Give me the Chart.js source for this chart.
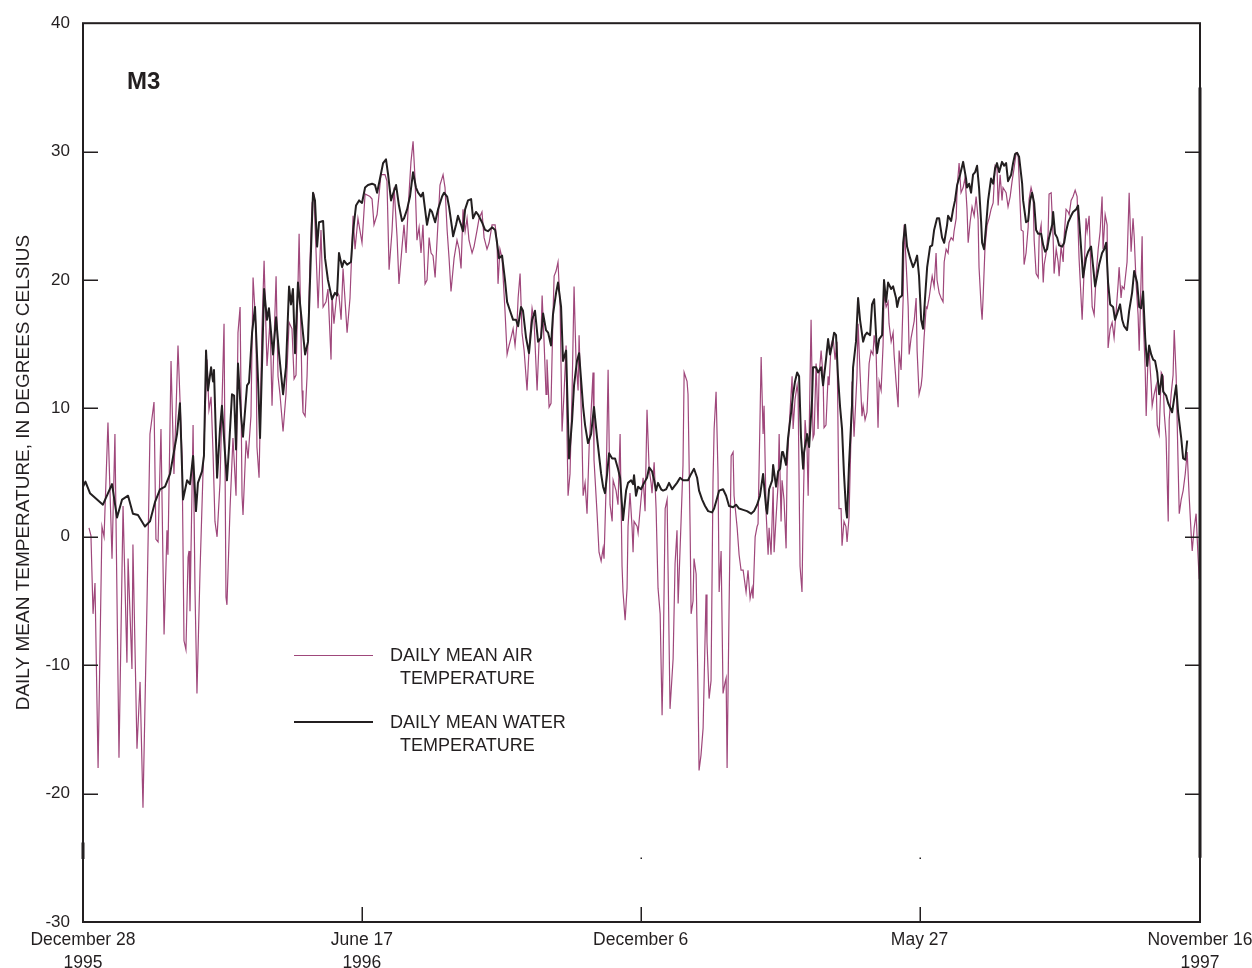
<!DOCTYPE html>
<html>
<head>
<meta charset="utf-8">
<title>M3 daily mean air and water temperature</title>
<script src="https://cdn.jsdelivr.net/npm/chart.js@4.4.1/dist/chart.umd.min.js"></script>
<style>
  html, body { margin: 0; padding: 0; background: #fff; }
  #wrap { width: 1252px; height: 968px; }
</style>
</head>
<body>
<div id="wrap"><canvas id="chart" width="1252" height="968"></canvas></div>
<script>
// x = days after December 28 1995, y = degrees Celsius
const tickDays = [0, 172, 344, 516, 689];
const tickLabels = [['December 28', '1995'], ['June 17', '1996'], ['December 6', ''], ['May 27', ''], ['November 16', '1997']];
const tempTicks = [-30, -20, -10, 0, 10, 20, 30, 40];

const airTemp = [
  [3.7,0.7],[4.9,0.1],[6.2,-6],[7.4,-3.6],[9.3,-18],[11.7,0.8],[13,0],[15.4,8.9],[17.9,-1.7],[19.7,8],
  [22.2,-17.2],[24.7,2.4],[27.1,-9.8],[27.8,-1.7],[30.2,-10.3],[30.8,-0.6],[33.3,-16.5],[35.2,-11.3],[37,-21.1],[39.5,-5],
  [41.3,8],[43.8,10.5],[45,-0.2],[46.3,-0.4],[48.1,8.4],[50,-7.6],[51.8,0.5],[52.4,-1.4],[54.3,13.7],[56.1,4.9],
  [57.4,9.9],[58.6,14.9],[61.1,6.3],[62.3,-8.1],[63.5,-8.8],[64.8,-1.6],[65.4,-1.1],[66,-5.8],[67.9,8.7],[69.1,-4.3],
  [70.3,-12.2],[72.2,-2.6],[74,4.9],[76.5,13.8],[77.7,9.9],[79,10.9],[80.2,6.6],[81.4,1.2],[82.7,0],[84.5,4.2],
  [87,16.6],[88.2,-4.7],[88.8,-5.3],[90.7,2.2],[92.5,7.7],[94.4,3.2],[95.6,15.9],[96.9,17.9],[98.1,3.2],[98.7,1.7],
  [100.6,7.5],[101.8,6.1],[103.6,9.4],[104.9,20.2],[106.7,16.2],[107.3,7],[108.6,4.6],[110.4,16.2],[111.7,21.5],[113.5,13.3],
  [115.4,16.9],[116.6,10.2],[119.1,20.3],[120.3,12.5],[121.5,11.1],[123.4,8.2],[125.2,11.1],[127.1,16.7],[128.9,16.2],[130.2,12.3],
  [131.4,12.6],[133.3,23.6],[135.1,11.4],[135.7,9.7],[137,9.4],[138.2,12.5],[140,21.4],[141.3,26],[142.5,26.5],[143.7,22.4],
  [145,17.8],[146.8,23.9],[148.1,17.9],[149.9,18.3],[151.1,19.3],[153,13.8],[153.6,18.8],[154.8,16.6],[156.7,19.1],[157.9,18.8],
  [159.2,16.9],[160.4,20.9],[162.9,15.9],[164.7,18.6],[166.6,25],[167.8,22.4],[169.6,24.8],[172.1,22.9],[174,26.7],[177,26.5],
  [178.3,26.3],[179.5,24.3],[181.4,25.1],[183.8,28.2],[186.3,28.2],[187.5,27.7],[188.8,20.8],[190.6,23.8],[191.9,27.2],[193.7,23.4],
  [194.9,19.7],[196.8,22.6],[198,24.3],[199.3,22.1],[200.5,25.5],[202.3,29.2],[203.6,30.8],[204.8,27.9],[206,23.1],[207.3,24.1],
  [208.5,22.1],[209.7,24.3],[211,19.7],[212.2,20],[213.5,23.3],[214.7,22.1],[215.9,21.9],[217.2,20.2],[218.4,23.1],[220.2,27.4],
  [222.1,28.2],[223.3,27.2],[224.6,23.9],[225.8,21.7],[227,19.1],[228.9,21.7],[230.7,23.1],[232,22.4],[233.2,20.9],[234.4,25.5],
  [235.7,23.8],[236.9,24.8],[238.1,23.1],[240,22.1],[241.2,22.6],[243.1,23.9],[244.3,24.8],[246.1,25.3],[247.4,23.3],[249.2,22.4],
  [250.5,22.9],[252.3,24.3],[254.2,24.3],[255.4,22.9],[256,19.7],[257.2,22.4],[258.5,21.7],[260.3,17.6],[261.6,14.2],[262.8,14.9],
  [264,15.5],[265.3,16.2],[266.5,14.9],[267.7,16.6],[268.4,18.6],[269.6,20.5],[270.8,15.9],[272.1,14.5],[273.9,11.4],[275.1,14.5],
  [277,17.8],[278.2,16.9],[280.1,11.4],[281.3,15.2],[282.5,15.5],[283.2,18.8],[284.4,15.2],[285.6,11.1],[286.2,13.8],[287.5,10.1],
  [288.7,10.4],[289.9,17.3],[290.6,20.3],[291.8,20.7],[293,21.4],[294.3,17.9],[295.5,8.2],[296.7,11.1],[298,14.9],[298.6,7.7],
  [299.2,3.2],[300.4,4.9],[301.7,11.4],[302.9,19.5],[304.1,13.8],[305.4,11.4],[306,15.7],[307.8,7.7],[308.5,3.2],[309.7,4.2],
  [310.9,1.8],[312.2,7],[313.4,9.7],[314.6,12.8],[315.2,6],[317.1,1.8],[318.3,-1.2],[319.6,-1.9],[320.8,-0.9],[321.4,-1.7],
  [322.6,3.6],[323.9,13],[325.1,2.5],[326.4,1.2],[327,4.4],[328.8,3.6],[330,2.5],[331.3,8],[332.5,-2.3],[333.1,-4.3],
  [334.4,-6.5],[335.6,-4],[336.2,0.8],[337.4,3.4],[338.7,0.7],[339.3,-1.2],[339.9,1.2],[341.8,0.8],[342.4,0.3],[344.2,2.9],
  [345.5,4.6],[346.7,2],[347.9,9.9],[349.2,5.3],[350.4,4.2],[351,3.4],[352.3,5.8],[353.5,2.2],[354.7,-4],[356,-6],
  [357.2,-13.9],[357.8,-10.1],[359.1,2.2],[360.3,2.9],[360.9,-2.6],[362.1,-13.4],[364,-9.5],[365.2,-2.1],[366.4,0.5],[367.1,-5.2],
  [368.9,1.2],[370.1,5.6],[370.8,12.8],[372.6,12.1],[373.2,11.1],[374.5,0.5],[375.1,-6],[376.3,-5],[376.9,-1.7],[378.2,-2.9],
  [379.4,-12.2],[380,-18.2],[381.2,-17],[382.5,-14.9],[384.3,-4.5],[384.9,-8.2],[386.2,-12.6],[387.4,-11.2],[388.6,4.2],[389.3,8.4],
  [390.5,11.3],[391.7,4.9],[392.4,-4.3],[393.6,-1.1],[394.8,-12.2],[396.1,-11.3],[396.7,-11],[397.3,-18],[398.5,-5.7],[399.8,6.3],
  [401,6.6],[401.6,3.2],[403.5,0.7],[404.7,-1.4],[405.9,-2.6],[407.2,-2.6],[409,-4.3],[410.2,-2.6],[411.5,-4.8],[412.7,-4],
  [413.3,-4.8],[414.6,0],[415.8,0.8],[416.4,1],[418.3,14],[419.5,8],[420.1,10.2],[421.4,1.8],[422.6,-1.4],[423.2,0.7],
  [424.4,-1.4],[425.7,3.9],[426.3,-1.2],[427.5,1.5],[428.8,4.2],[429.4,8],[430.6,1.2],[431.2,4.4],[432.4,2.9],[433.7,-0.9],
  [434.3,5.3],[435.5,8.4],[437.4,12.5],[438,8.4],[439.2,10.7],[440.5,11.8],[441.1,11.1],[442.3,-2.3],[443.5,-4.3],[444.2,1.8],
  [445.4,9.1],[446.6,7],[447.3,3.2],[448.5,12.5],[449.1,16.9],[450.3,7.7],[451,8],[452.2,13.5],[453.4,8.4],[454,12.5],
  [455.3,14.5],[456.5,12.5],[457.1,8.5],[458.3,8.7],[459.6,12.5],[460.2,11.8],[461.4,14.9],[462.7,15.5],[463.9,13.8],[465.1,15.2],
  [466.3,2.2],[467.6,2.2],[468.2,-0.7],[469.4,1.2],[470.6,0.8],[471.3,-0.4],[472.5,1.5],[473.7,7.7],[474.4,12.1],[475.6,7.8],
  [477.4,12.5],[478.1,16.6],[479.3,12.8],[480.5,9.4],[481.2,10.2],[482.4,9.1],[483.6,9.7],[484.9,13.5],[486.1,14.5],[487.3,14.2],
  [488,15.7],[489.2,14.5],[490.4,8.5],[491.1,12.1],[492.3,11.4],[493.5,14.9],[494.1,19],[495.4,17.9],[496.6,18.3],[497.2,16.6],
  [498.5,15.2],[499.7,15.9],[500.3,14.2],[501.5,12.1],[502.8,10.1],[503.4,14.5],[504.6,13],[505.9,18.6],[506.5,24.3],[507.7,21.4],
  [509,17.9],[509.6,14.2],[510.8,15.5],[511.4,15.9],[512.7,16.8],[513.9,18.6],[514.5,14.5],[515.7,11.1],[517,11.8],[517.6,12.5],
  [518.8,15.5],[520.1,17.9],[520.7,17.8],[521.9,18.6],[523.1,19.7],[523.8,20.3],[525,19.5],[526.2,22.1],[526.8,20],[528.1,19],
  [529.3,18.6],[530.5,18.3],[531.2,21.4],[532.4,22.4],[533.6,22.1],[534.2,22.9],[535.5,23.3],[536.7,23.1],[537.3,23.8],[538.6,24.8],
  [539.2,27.2],[540.4,29.1],[541.6,26.8],[542.9,27.2],[544.1,28],[545.3,25.5],[546,22.9],[547.2,24.5],[548.4,25.7],[549.7,25],
  [550.9,26.5],[552.1,24.8],[552.7,21],[554,17.9],[554.6,16.9],[555.2,18.6],[556.4,22.6],[557.7,24.3],[558.9,24.8],[560.1,25.5],
  [561.4,26],[562.6,28.9],[563.8,28.7],[564.5,25.8],[565.7,28.2],[566.9,26.2],[567.5,27.2],[569.4,26.8],[570.6,25.7],[571.9,26.5],
  [573.1,27.7],[574.3,28.7],[575.6,29.9],[576.8,29.8],[577.4,27.9],[578.7,23.9],[579.9,23.8],[580.5,21.2],[581.7,22.1],[583,24.1],
  [583.6,26.3],[584.8,27.2],[586.1,26.5],[586.7,23.1],[587.9,20.5],[589.2,20.2],[589.8,23.4],[591,24.3],[592.3,19.8],[592.9,21.2],
  [594.1,22.1],[595.3,23.6],[595.9,26.7],[597.2,26.8],[598.4,23.3],[599,20.5],[600.3,22.4],[601.5,21.4],[602.1,20.3],[603.3,22.6],
  [604.6,21.4],[605.2,23.4],[606.4,25.5],[607.7,25.3],[608.3,25.1],[609.5,26.2],[610.7,26.5],[612,27],[613.2,26.5],[614.4,21.7],
  [616.3,16.9],[617.5,20.7],[618.7,24.8],[619.4,23.8],[620.6,25],[621.8,20.3],[622.5,17.9],[623.7,17.3],[624.9,20.3],[626.2,22.4],
  [627.4,23.8],[628.6,26.5],[629.2,22.4],[630.5,25.1],[631.7,24.3],[632.3,14.7],[633.6,16.2],[634.8,16.7],[636,15.5],[637.3,17.6],
  [638.5,19.7],[639.1,21],[640.3,18.6],[641,19.5],[642.2,19.3],[644,21.4],[645.3,26.8],[646.5,22.2],[647.7,24.8],[648.4,23.4],
  [649.6,19.7],[650.8,17.3],[651.5,14.5],[652.7,20.3],[653.3,23.4],[653.9,17.3],[655.2,13],[655.8,9.4],[657,14.2],[657.6,14.5],
  [658.9,11.8],[659.5,10.2],[660.7,11.1],[662,11.8],[662.6,8.7],[663.8,8],[665.1,12.8],[666.3,12.5],[666.9,9.7],[668.1,7.7],
  [669.4,1.2],[670,9.1],[671.2,11.1],[672.4,12.6],[673.1,16.1],[674.3,12.5],[675.5,5.6],[676.2,1.8],[677.4,2.9],[678.6,3.6],
  [679.9,4.9],[681.1,6.6],[682.3,3.2],[683.6,0.1],[684.2,-1.1],[685.4,0.7],[686.6,1.8],[687.3,-0.2],[688.5,-3.3]
];

const waterTemp = [
  [0,3.9],[1.5,4.3],[4.3,3.4],[12.3,2.5],[17.9,4.1],[21,1.5],[24.1,2.9],[27.8,3.2],[30.8,1.8],[33.9,1.7],
  [38.2,0.8],[41.3,1.2],[44.4,2.7],[47.5,3.7],[50.6,3.9],[53.7,4.9],[58,8],[59.8,10.4],[61.7,2.9],[64.2,4.4],
  [66,4.1],[67.9,6.3],[69.7,2],[70.9,4.2],[73.4,5.1],[74.6,6.3],[75.9,14.5],[77.1,11.4],[79,13.2],[80.2,12.1],
  [80.8,13],[82.7,4.6],[84.5,8.4],[85.7,10.2],[87.6,6.5],[88.8,4.4],[90.1,7],[91.9,11.1],[93.2,11],[94.4,6.8],
  [95.6,13.5],[97.5,9.4],[98.7,7.8],[101.2,11.8],[102.4,12],[104.3,15.9],[106.1,17.9],[108,12.1],[109.2,7.7],[111.7,19.3],
  [113.5,16.9],[114.7,17.8],[117.2,14.2],[119.1,17.1],[120.9,14.3],[123.4,11.1],[125.2,13.2],[127.1,19.5],[128.3,18.1],[129.5,19.3],
  [130.8,14.3],[132.6,19.8],[135.1,16.6],[137,14.2],[138.8,15.2],[141.3,24.8],[141.9,26.8],[143.1,26.2],[144.4,22.6],[145.6,24.5],
  [148.1,24.6],[149.3,21.7],[151.1,20],[153.6,18.5],[155.4,19],[156.7,18.8],[157.9,22.1],[159.8,21],[161,21.5],[162.9,21.2],
  [165.3,21.4],[166.6,23.8],[168.4,25.8],[170.3,26.2],[172.1,26],[174,27.2],[175.8,27.4],[178.3,27.5],[180.1,27.4],[181.4,26.8],
  [183.2,27.9],[185.1,29.1],[186.9,29.4],[188.2,28.2],[190,26.2],[191.2,26.7],[193.1,27.4],[194.9,25.8],[196.8,24.6],[198,24.8],
  [199.9,25.5],[201.7,26.5],[203.6,28.4],[205.4,27.2],[206.7,26.8],[208.5,26.5],[209.7,26.8],[211,25.5],[212.2,24.3],[214.1,25.5],
  [215.3,25.3],[217.2,24.5],[219,25.5],[221.5,26.5],[222.7,26.8],[224.6,26.5],[225.8,25.7],[227.6,24.1],[228.3,23.4],[230.1,24.3],
  [231.3,25],[233.2,24.3],[234.4,23.8],[235.7,25.5],[237.5,26.2],[239.4,26.3],[240.6,24.8],[242.4,25.3],[243.7,25.1],[246.1,24.5],
  [248,23.9],[249.8,23.8],[252.3,24.1],[254.2,23.9],[255.4,22.9],[256.6,21.7],[258.5,21.9],[260.3,20],[261.6,18.3],[263.4,17.6],
  [265.3,16.9],[267.1,16.9],[268.4,16.4],[270.2,17.9],[271.4,17.6],[273.3,15.5],[275.1,14.3],[277,16.9],[278.8,17.6],[280.7,15.2],
  [282.5,15.5],[283.8,17.4],[285.6,16.1],[286.9,15.9],[288.7,14.9],[289.9,17.3],[291.8,19],[293,19.8],[294.9,17.9],[296.1,13.7],
  [298,14.5],[299.8,6.1],[301.7,9.1],[302.9,11.8],[304.7,13.7],[306,14.3],[308.5,10.1],[309.7,8.7],[311.5,7.3],[313.4,8],
  [315.2,10.1],[317.1,7.7],[319.6,4.9],[320.8,3.9],[322,3.4],[323.3,4.9],[324.5,6.5],[326.4,6.1],[328.2,6.1],[330,5.3],
  [331.3,4.6],[333.1,1.3],[335,3.6],[336.2,4.2],[338.1,4.4],[339.3,4.1],[339.9,4.8],[341.1,3.2],[342.4,3.9],[344.2,3.7],
  [346.1,4.2],[347.9,4.6],[349.2,5.4],[351,5.1],[352.3,4.4],[353.5,3.6],[354.7,4.2],[356.6,3.7],[357.8,3.6],[359.7,3.7],
  [361.5,4.2],[363.4,3.7],[364.6,3.9],[366.4,4.2],[368.3,4.6],[370.1,4.4],[372,4.4],[373.2,4.4],[375.1,4.9],[376.9,5.3],
  [378.8,4.6],[380,3.6],[381.9,2.9],[383.7,2.4],[385.6,2],[388,1.9],[389.3,2.2],[391.1,3],[392.4,3.6],[394.8,3.7],
  [396.7,3.2],[398.5,2.4],[401,2.3],[402.8,2.5],[404.7,2.2],[407.2,2.1],[409.6,2],[412.1,1.8],[413.9,2],[415.8,2.5],
  [417.6,3.2],[419.5,4.9],[421.4,2.2],[422,1.8],[423.2,3.7],[425.1,4.4],[425.7,5.6],[427.5,3.9],[428.8,5.1],[430,5.3],
  [431.2,6.6],[431.8,6.6],[433.7,5.6],[434.9,7.7],[436.8,9.7],[438,11.1],[439.2,12.1],[440.5,12.8],[441.7,12.5],[442.9,7.7],
  [444.2,5.3],[444.8,6.6],[446.6,8],[447.9,7],[449.7,10.7],[450.3,13.2],[452.2,13.2],[453.4,12.8],[455.3,13.2],[456.5,11.8],
  [458.3,13.8],[459.6,15.4],[460.8,14.2],[462,14.9],[463.3,15.9],[464.5,15.7],[465.7,12.5],[467,10.1],[468.2,8.4],[469.4,4.9],
  [470.6,2.2],[471.3,1.5],[472.5,5.6],[474.4,10.4],[475,13.2],[476.8,15.2],[478.1,18.6],[479.3,16.9],[481.2,15.2],[482.4,15.7],
  [483.6,15.9],[485.5,15.7],[486.7,18.1],[488,18.5],[489.8,14.3],[491.1,15.4],[492.9,15.7],[494.1,20],[495.4,18.3],[496.6,19.8],
  [498.5,19.3],[499.7,19.5],[501.5,18.6],[502.2,17.9],[503.4,18.6],[505.2,18.8],[505.9,22.9],[507.1,24.3],[508.3,22.6],[510.2,21.7],
  [512,21],[513.3,21.4],[514.5,21.9],[515.7,20.3],[517,16.9],[518.2,16.2],[519.4,18.6],[520.7,21],[522.5,22.6],[523.8,22.7],
  [525,23.9],[526.8,24.8],[528.1,24.8],[529.9,23.3],[531.2,22.9],[533,24.3],[533.6,25],[535.5,24.6],[536.7,25.5],[537.9,26.2],
  [539.2,27.4],[541,28.2],[542.9,29.2],[544.7,27.9],[545.3,27.2],[546.6,27.5],[547.8,26.8],[549,28.2],[550.3,28.4],[551.5,28.9],
  [552.7,27.2],[554,24.5],[554.6,22.9],[555.8,22.4],[557.1,24.3],[558.3,26.2],[560.1,27.9],[561.4,27.5],[562.6,28.7],[563.8,29.1],
  [565.1,28.4],[566.9,29.2],[568.2,28.9],[569.4,29.1],[570.6,27.7],[572.5,28.2],[573.7,29.1],[574.9,29.8],[576.2,29.9],[577.4,29.6],
  [579.3,27.5],[579.9,26.2],[581.7,24.5],[583,24.6],[584.2,26.2],[585.4,26.8],[586.7,26],[587.9,23.9],[589.2,23.6],[591,23.6],
  [592.3,22.7],[593.5,22.2],[594.7,22.4],[595.9,23.3],[597.8,24.3],[598.4,25.3],[599.6,23.6],[600.9,23.3],[602.1,22.7],[604,22.6],
  [605.2,22.9],[606.4,23.8],[607.7,24.5],[609.5,25],[610.7,25.3],[612.6,25.5],[613.8,25.8],[615.7,22.4],[616.9,20.2],[618.7,21.7],
  [620,22.2],[621.8,22.6],[623.1,21],[624.3,19.5],[625.5,20.3],[626.8,21.2],[628.6,22.1],[629.9,22.4],[631.1,22.9],[632.3,19.8],
  [633.6,18.1],[635.4,17.9],[636.6,16.9],[637.9,17.4],[639.7,18.1],[641,16.9],[642.2,16.4],[644,16.1],[645.3,17.6],[647.1,19],
  [648.4,20.7],[650.2,19.8],[651.5,17.9],[652.7,17.8],[653.9,19.1],[655.2,15.5],[656.4,13.3],[657.6,14.9],[658.9,14.2],[660.1,13.8],
  [661.3,13.7],[662.6,12.8],[663.8,11.1],[665.6,12.6],[666.3,11.3],[668.1,11],[669.4,10.4],[671.8,9.7],[673.1,10.8],[674.3,11.8],
  [675.5,9.7],[677.4,7.7],[678.6,6.1],[679.9,6],[681.1,7.5]
];

const ink = '#231f20';
const airColor = '#9f477b';
const fontFamily = '"Liberation Sans", Arial, Helvetica, sans-serif';

// frame, inward tick marks, station label and legend
const decorations = {
  id: 'decorations',
  afterDraw(chart) {
    const { ctx, chartArea: a, scales: { x, y } } = chart;
    ctx.save();
    ctx.strokeStyle = ink;
    ctx.lineWidth = 2;
    ctx.strokeRect(a.left, a.top, a.right - a.left, a.bottom - a.top);

    // heavier stretch of the right-hand frame, as in the printed figure
    ctx.lineWidth = 3;
    ctx.beginPath();
    ctx.moveTo(a.right, y.getPixelForValue(35));
    ctx.lineTo(a.right, y.getPixelForValue(-25));
    ctx.moveTo(a.left, y.getPixelForValue(-23.8));
    ctx.lineTo(a.left, y.getPixelForValue(-25.1));
    ctx.stroke();

    ctx.lineWidth = 1.5;
    ctx.beginPath();
    tempTicks.forEach(v => {
      if (v <= y.min || v >= y.max) return;
      const py = Math.round(y.getPixelForValue(v)) + 0.25;
      ctx.moveTo(a.left, py); ctx.lineTo(a.left + 15, py);
      ctx.moveTo(a.right - 15, py); ctx.lineTo(a.right, py);
    });
    tickDays.slice(1, -1).forEach(d => {
      const px = Math.round(x.getPixelForValue(d)) + 0.25;
      ctx.moveTo(px, a.bottom); ctx.lineTo(px, a.bottom - 15);
    });
    ctx.stroke();

    // faint specks above the inner date ticks
    ctx.fillStyle = ink;
    tickDays.slice(2, -1).forEach(d => {
      ctx.fillRect(Math.round(x.getPixelForValue(d)) - 0.5, Math.round(y.getPixelForValue(-25)) - 0.5, 1.5, 1.5);
    });

    ctx.textAlign = 'left';
    ctx.textBaseline = 'middle';
    ctx.font = 'bold 24px ' + fontFamily;
    ctx.fillText('M3', a.left + 44, a.top + 59);

    ctx.font = '18px ' + fontFamily;
    ctx.fillText('DAILY MEAN AIR', 390, 656);
    ctx.fillText('TEMPERATURE', 400, 679);
    ctx.fillText('DAILY MEAN WATER', 390, 723);
    ctx.fillText('TEMPERATURE', 400, 746);

    ctx.strokeStyle = airColor;
    ctx.lineWidth = 1.2;
    ctx.beginPath(); ctx.moveTo(294, 655.5); ctx.lineTo(373, 655.5); ctx.stroke();
    ctx.strokeStyle = ink;
    ctx.lineWidth = 2;
    ctx.beginPath(); ctx.moveTo(294, 722); ctx.lineTo(373, 722); ctx.stroke();
    ctx.restore();
  }
};

new Chart(document.getElementById('chart'), {
  type: 'line',
  data: {
    datasets: [
      {
        label: 'DAILY MEAN WATER TEMPERATURE',
        data: waterTemp.map(([d, t]) => ({ x: d, y: t })),
        borderColor: ink,
        borderWidth: 2,
        borderJoinStyle: 'round'
      },
      {
        label: 'DAILY MEAN AIR TEMPERATURE',
        data: airTemp.map(([d, t]) => ({ x: d, y: t })),
        borderColor: airColor,
        borderWidth: 1.2
      }
    ]
  },
  options: {
    responsive: false,
    animation: false,
    devicePixelRatio: 1,
    layout: { padding: { top: 22, right: 52, bottom: 0, left: 0 } },
    elements: { point: { radius: 0 }, line: { tension: 0 } },
    plugins: { legend: { display: false }, tooltip: { enabled: false } },
    scales: {
      x: {
        type: 'linear',
        min: 0,
        max: 689,
        border: { display: false },
        grid: { display: false, drawTicks: false },
        afterBuildTicks: s => { s.ticks = tickDays.map(v => ({ value: v })); },
        afterFit: s => { s.height = 46; s.paddingLeft = 0; s.paddingRight = 0; },
        ticks: {
          autoSkip: false,
          maxRotation: 0,
          padding: 7,
          color: ink,
          font: { family: fontFamily, size: 17.5, lineHeight: 1.31 },
          callback: (v, i) => tickLabels[i]
        }
      },
      y: {
        min: -30,
        max: 40,
        border: { display: false },
        grid: { display: false, drawTicks: false },
        afterBuildTicks: s => { s.ticks = tempTicks.map(v => ({ value: v })); },
        afterFit: s => { s.width = 83; },
        ticks: {
          padding: 13,
          color: ink,
          font: { family: fontFamily, size: 17 }
        },
        title: {
          display: true,
          text: 'DAILY MEAN TEMPERATURE, IN DEGREES CELSIUS',
          color: ink,
          padding: { top: 12, bottom: 0 },
          font: { family: fontFamily, size: 19 }
        }
      }
    }
  },
  plugins: [decorations]
});
</script>
</body>
</html>
